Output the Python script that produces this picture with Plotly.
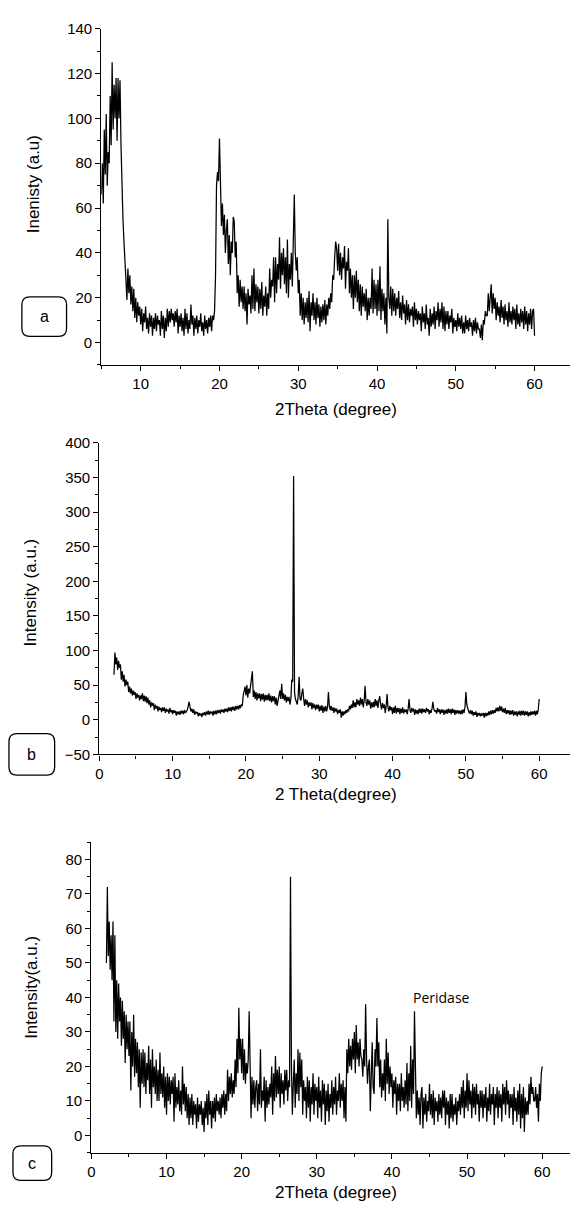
import plotly.graph_objects as go

# ---------------- data ----------------
theta_step = 0.125

# panel a : 2Theta from 5.0 to 60.0 (8 readings per degree)
a_theta_start = 5.0
a_intensity = [
    66, 80, 62, 95, 75, 102, 70, 85,       # 5
    80, 110, 88, 125, 95, 115, 100, 118,   # 6
    90, 118, 100, 117, 88, 62, 55, 45,     # 7
    32, 28, 19, 33, 22, 30, 17, 25,        # 8
    14, 24, 11, 20, 9, 18, 12, 16,         # 9
    8, 15, 5, 13, 9, 16, 6, 11,            # 10
    4, 13, 7, 12, 3, 11, 6, 13,            # 11
    5, 12, 8, 10, 3, 14, 6, 12,            # 12
    2, 11, 5, 15, 7, 14, 9, 15,            # 13
    10, 13, 7, 14, 9, 15, 4, 12,           # 14
    7, 13, 5, 11, 3, 15, 6, 13,            # 15
    4, 10, 6, 17, 8, 12, 3, 11,            # 16
    6, 12, 4, 10, 7, 13, 5, 9,             # 17
    3, 12, 6, 10, 4, 11, 7, 12,            # 18
    5, 12, 10, 14, 30, 70, 76, 72,         # 19
    91, 60, 52, 62, 48, 57, 40, 50,        # 20
    55, 35, 48, 30, 45, 40, 56, 54,        # 21
    38, 45, 22, 30, 16, 28, 18, 25,        # 22
    15, 25, 14, 22, 8, 24, 17, 21,         # 23
    13, 30, 15, 33, 14, 26, 18, 25,        # 24
    13, 24, 15, 27, 12, 21, 16, 25,        # 25
    12, 22, 15, 33, 20, 28, 25, 38,        # 26
    18, 38, 22, 35, 28, 47, 24, 40,        # 27
    30, 42, 26, 38, 22, 46, 20, 35,        # 28
    28, 40, 25, 46, 66, 40, 32, 38,        # 29
    22, 28, 12, 22, 10, 20, 8, 18,         # 30
    11, 20, 9, 23, 5, 18, 12, 22,          # 31
    10, 18, 8, 20, 11, 17, 7, 16,          # 32
    9, 17, 10, 19, 8, 17, 12, 20,          # 33
    15, 22, 18, 30, 28, 38, 45, 42,        # 34
    32, 44, 30, 40, 28, 38, 33, 43,        # 35
    24, 36, 32, 42, 22, 33, 20, 30,        # 36
    15, 30, 20, 32, 18, 28, 14, 26,        # 37
    12, 25, 16, 22, 14, 24, 10, 20,        # 38
    12, 20, 15, 33, 13, 28, 15, 26,        # 39
    12, 28, 14, 34, 10, 24, 14, 22,        # 40
    8, 20, 4, 55, 20, 15, 25, 12,          # 41
    24, 14, 22, 12, 20, 15, 23, 11,        # 42
    18, 10, 21, 13, 17, 8, 19, 10,         # 43
    17, 9, 15, 12, 16, 7, 18, 10,          # 44
    15, 8, 14, 10, 13, 5, 16, 9,           # 45
    13, 6, 17, 8, 11, 3, 15, 7,            # 46
    13, 8, 16, 6, 14, 10, 18, 7,           # 47
    15, 9, 18, 6, 16, 5, 14, 8,            # 48
    14, 6, 12, 9, 15, 4, 11, 7,            # 49
    10, 5, 13, 7, 11, 6, 12, 4,            # 50
    9, 4, 12, 6, 10, 5, 11, 7,             # 51
    9, 3, 10, 5, 11, 4, 9, 6,              # 52
    6, 2, 8, 1, 10, 8, 14, 12,             # 53
    12, 22, 14, 20, 26, 13, 22, 15,        # 54
    20, 10, 18, 12, 16, 9, 19, 11,         # 55
    16, 8, 17, 10, 14, 7, 18, 9,           # 56
    14, 8, 16, 10, 15, 6, 17, 8,           # 57
    13, 7, 15, 9, 14, 6, 16, 8,            # 58
    14, 5, 13, 8, 15, 6, 14, 15,           # 59
    3,                                     # 60
]

# panel b : 2Theta from 2.0 to 60.0
b_theta_start = 2.0
b_intensity = [
    65, 97, 80, 90, 72, 85, 75, 80,        # 2
    58, 70, 55, 65, 48, 58, 50, 55,        # 3
    40, 48, 38, 45, 35, 42, 36, 40,        # 4
    30, 38, 32, 36, 28, 35, 30, 38,        # 5
    27, 35, 26, 34, 24, 32, 22, 28,        # 6
    18, 25, 20, 24, 14, 22, 16, 20,        # 7
    12, 19, 14, 17, 11, 18, 13, 18,        # 8
    10, 16, 12, 15, 9, 17, 11, 14,         # 9
    8, 14, 10, 13, 6, 12, 8, 12,           # 10
    7, 13, 9, 13, 8, 14, 10, 12,           # 11
    14, 20, 26, 18, 12, 16, 10, 15,        # 12
    7, 12, 9, 11, 5, 10, 6, 9,             # 13
    4, 10, 7, 11, 6, 12, 8, 13,            # 14
    7, 12, 9, 12, 6, 13, 8, 13,            # 15
    8, 14, 10, 14, 9, 15, 11, 15,          # 16
    10, 16, 12, 16, 11, 18, 13, 18,        # 17
    12, 19, 14, 19, 13, 20, 15, 20,        # 18
    15, 21, 17, 22, 20, 35, 42, 48,        # 19
    35, 50, 32, 45, 38, 48, 55, 70,        # 20
    33, 42, 30, 40, 28, 38, 31, 38,        # 21
    27, 37, 29, 38, 26, 36, 28, 36,        # 22
    28, 38, 27, 35, 25, 34, 27, 34,        # 23
    22, 32, 20, 28, 35, 42, 30, 52,        # 24
    30, 38, 28, 36, 25, 33, 27, 33,        # 25
    22, 30, 58, 55, 352, 40, 30, 25,       # 26
    22, 35, 62, 30, 28, 38, 45, 30,        # 27
    20, 30, 22, 28, 18, 25, 20, 25,        # 28
    15, 24, 17, 22, 14, 22, 16, 22,        # 29
    12, 20, 13, 21, 10, 19, 12, 20,        # 30
    12, 18, 40, 20, 14, 20, 13, 18,        # 31
    10, 17, 12, 16, 8, 14, 10, 15,         # 32
    3, 12, 6, 12, 8, 14, 10, 15,           # 33
    12, 20, 15, 22, 17, 28, 18, 25,        # 34
    18, 30, 22, 28, 20, 32, 22, 30,        # 35
    18, 28, 49, 25, 20, 30, 22, 28,        # 36
    16, 25, 18, 26, 18, 30, 20, 28,        # 37
    17, 28, 34, 22, 15, 24, 17, 22,        # 38
    10, 20, 37, 18, 12, 20, 14, 18,        # 39
    8, 18, 10, 20, 9, 17, 11, 17,          # 40
    8, 16, 10, 18, 9, 15, 11, 15,          # 41
    8, 16, 30, 14, 10, 17, 12, 16,         # 42
    7, 15, 9, 14, 8, 16, 10, 16,           # 43
    9, 16, 11, 15, 10, 17, 12, 15,         # 44
    8, 14, 10, 16, 26, 15, 12, 14,         # 45
    9, 17, 11, 15, 8, 15, 10, 15,          # 46
    7, 14, 9, 15, 9, 16, 10, 15,           # 47
    8, 16, 10, 15, 7, 14, 9, 14,           # 48
    9, 13, 8, 14, 8, 15, 10, 18,           # 49
    40, 22, 15, 12, 9, 14, 8, 13,          # 50
    6, 11, 7, 12, 4, 10, 6, 10,            # 51
    5, 9, 6, 10, 3, 10, 5, 10,             # 52
    6, 12, 7, 13, 8, 14, 9, 14,            # 53
    10, 17, 12, 18, 12, 20, 13, 19,        # 54
    11, 16, 10, 17, 8, 14, 9, 14,          # 55
    7, 13, 8, 14, 6, 12, 7, 12,            # 56
    5, 12, 7, 13, 6, 13, 7, 13,            # 57
    6, 12, 7, 12, 5, 11, 6, 12,            # 58
    7, 12, 8, 13, 6, 13, 8, 15,            # 59
    30,                                    # 60
]

# panel c : 2Theta from 2.0 to 60.0
c_theta_start = 2.0
c_intensity = [
    50, 72, 52, 62, 48, 58, 45, 62,        # 2
    33, 58, 30, 45, 28, 44, 33, 40,        # 3
    26, 39, 28, 36, 21, 35, 25, 33,        # 4
    23, 33, 13, 30, 20, 35, 17, 28,        # 5
    18, 27, 14, 25, 8, 24, 15, 25,         # 6
    14, 24, 12, 21, 16, 26, 12, 22,        # 7
    8, 25, 14, 20, 12, 22, 10, 19,         # 8
    10, 24, 12, 18, 11, 20, 8, 17,         # 9
    6, 18, 10, 17, 9, 16, 12, 17,          # 10
    4, 18, 8, 14, 9, 16, 7, 13,            # 11
    6, 20, 9, 15, 7, 14, 5, 12,            # 12
    3, 11, 5, 12, 3, 10, 6, 9,             # 13
    2, 11, 4, 9, 6, 10, 3, 8,              # 14
    1, 10, 5, 12, 3, 13, 6, 10,            # 15
    2, 10, 5, 11, 4, 12, 7, 10,            # 16
    6, 11, 5, 12, 8, 13, 6, 12,            # 17
    7, 19, 10, 17, 12, 18, 11, 16,         # 18
    12, 22, 14, 28, 18, 37, 22, 28,        # 19
    18, 28, 16, 25, 15, 21, 18, 22,        # 20
    36, 15, 5, 17, 9, 16, 8, 14,           # 21
    16, 7, 15, 9, 25, 8, 13, 10,           # 22
    17, 4, 16, 8, 14, 9, 15, 11,           # 23
    20, 6, 18, 10, 23, 11, 19, 12,         # 24
    20, 8, 18, 12, 16, 9, 19, 13,          # 25
    19, 10, 16, 14, 75, 20, 6, 15,         # 26
    22, 8, 18, 12, 25, 10, 24, 14,         # 27
    22, 6, 16, 10, 14, 5, 17, 8,           # 28
    16, 4, 14, 9, 18, 6, 15, 10,           # 29
    14, 5, 17, 8, 13, 4, 16, 9,            # 30
    15, 3, 13, 7, 15, 4, 12, 8,            # 31
    16, 6, 14, 9, 17, 6, 13, 10,           # 32
    18, 8, 15, 10, 16, 5, 14, 4,           # 33
    25, 18, 28, 20, 26, 19, 28, 22,        # 34
    30, 18, 32, 22, 27, 20, 28, 23,        # 35
    22, 17, 25, 20, 38, 22, 15, 20,        # 36
    22, 7, 18, 27, 14, 12, 25, 20,         # 37
    34, 20, 27, 14, 22, 11, 18, 13,        # 38
    22, 10, 28, 15, 24, 12, 20, 14,        # 39
    18, 8, 16, 12, 17, 6, 15, 10,          # 40
    15, 7, 18, 10, 14, 8, 16, 9,           # 41
    21, 7, 18, 10, 26, 8, 22, 12,          # 42
    36, 20, 5, 13, 6, 11, 3, 12,           # 43
    14, 2, 11, 6, 12, 4, 10, 7,            # 44
    15, 6, 12, 5, 13, 3, 11, 7,            # 45
    10, 4, 12, 6, 11, 5, 13, 8,            # 46
    13, 3, 11, 6, 10, 2, 12, 5,            # 47
    12, 4, 9, 6, 11, 3, 10, 7,             # 48
    12, 6, 14, 8, 16, 5, 13, 8,            # 49
    18, 7, 16, 9, 13, 5, 15, 8,            # 50
    14, 6, 15, 9, 12, 4, 13, 8,            # 51
    13, 5, 12, 8, 14, 4, 11, 7,            # 52
    15, 6, 12, 9, 14, 3, 12, 8,            # 53
    14, 5, 13, 8, 12, 4, 15, 9,            # 54
    14, 6, 16, 9, 13, 5, 12, 8,            # 55
    12, 3, 14, 7, 11, 4, 13, 6,            # 56
    15, 2, 12, 5, 14, 1, 11, 6,            # 57
    10, 6, 15, 9, 17, 12, 14, 10,          # 58
    10, 14, 8, 12, 4, 15, 10, 18,          # 59
    20,                                    # 60
]

panel_letters = ["a", "b", "c"]
x_titles = ["2Theta (degree)", "2 Theta(degree)", "2Theta (degree)"]
y_titles = ["Inenisty (a.u)", "Intensity (a.u.)", "Intensity(a.u.)"]
peak_label = "Peridase"
peak_label_theta = 43.0
peak_label_value = 36

# ---------------- layout helpers ----------------
W, H = 570, 1210


def px(x):
    return x / W


def py(y):
    return 1 - y / H


def theta_axis(start, values):
    return [start + i * theta_step for i in range(len(values))]


FONT = "Liberation Sans"

fig = go.Figure()
series = [(a_theta_start, a_intensity), (b_theta_start, b_intensity), (c_theta_start, c_intensity)]
for i, (st, vals) in enumerate(series):
    sfx = "" if i == 0 else str(i + 1)
    fig.add_trace(go.Scatter(
        x=theta_axis(st, vals), y=vals, mode="lines",
        line=dict(color="black", width=1.25),
        xaxis="x" + sfx, yaxis="y" + sfx, showlegend=False, hoverinfo="skip",
    ))

# pixel geometry of the three panels: (left, top, bottom)
panels = [(98, 20, 361), (96, 440, 756), (88, 845, 1160)]
x_ranges = [[5, 64.5], [0, 64.2], [0, 63.7]]
y_ranges = [[-10, 140], [-50, 400], [-5, 85]]
y_dticks = [20, 50, 10]

axis_common = dict(
    showline=True, linecolor="black", linewidth=1.3,
    ticks="outside", ticklen=5, tickwidth=1.2, tickcolor="black",
    showgrid=False, zeroline=False,
    tickfont=dict(family=FONT, size=15, color="black"),
)

layout = dict(
    width=W, height=H, margin=dict(l=0, r=0, t=0, b=0),
    paper_bgcolor="white", plot_bgcolor="white", showlegend=False,
    font=dict(family=FONT, color="black"),
)
for i in range(3):
    sfx = "" if i == 0 else str(i + 1)
    left, top, bottom = panels[i]
    layout["xaxis" + sfx] = dict(
        axis_common, domain=[px(left), 1], range=x_ranges[i],
        anchor="y" + sfx, tick0=0, dtick=10,
        minor=dict(ticks="outside", ticklen=3, dtick=5, tick0=0, tickcolor="black", tickwidth=1.2),
    )
    layout["yaxis" + sfx] = dict(
        axis_common, domain=[py(bottom), py(top)], range=y_ranges[i],
        anchor="x" + sfx, tick0=0, dtick=y_dticks[i],
        minor=dict(ticks="outside", ticklen=3, dtick=y_dticks[i] / 2, tick0=0, tickcolor="black", tickwidth=1.2),
    )
fig.update_layout(**layout)

# axis titles
x_title_y = [406, 797, 1200]
y_title_pos = [(30, 178), (27, 592), (27, 992)]
for i in range(3):
    fig.add_annotation(text=x_titles[i], xref="paper", yref="paper",
                       x=px(334), y=py(x_title_y[i]), showarrow=False,
                       xanchor="center", yanchor="middle",
                       font=dict(family=FONT, size=17, color="black"))
    fig.add_annotation(text=y_titles[i], xref="paper", yref="paper",
                       x=px(y_title_pos[i][0]), y=py(y_title_pos[i][1]), showarrow=False,
                       textangle=-90, xanchor="center", yanchor="middle",
                       font=dict(family=FONT, size=17, color="black"))


# rounded label boxes
def rrect(x0, y0, x1, y1, r):
    pts = [("M", [(x0 + r, y0)]), ("L", [(x1 - r, y0)]), ("Q", [(x1, y0), (x1, y0 + r)]),
           ("L", [(x1, y1 - r)]), ("Q", [(x1, y1), (x1 - r, y1)]), ("L", [(x0 + r, y1)]),
           ("Q", [(x0, y1), (x0, y1 - r)]), ("L", [(x0, y0 + r)]), ("Q", [(x0, y0), (x0 + r, y0)])]
    s = ""
    for cmd, ps in pts:
        s += cmd + " " + " ".join(f"{px(a):.5f},{py(b):.5f}" for a, b in ps) + " "
    return s + "Z"


boxes = [(18, 292, 63, 332), (5, 735, 51, 777), (9, 1153, 48, 1188)]
for i, (x0, y0, x1, y1) in enumerate(boxes):
    fig.add_shape(type="path", path=rrect(x0, y0, x1, y1, 8), xref="paper", yref="paper",
                  line=dict(color="black", width=1.3), fillcolor="white")
    fig.add_annotation(text=panel_letters[i], xref="paper", yref="paper",
                       x=px((x0 + x1) / 2), y=py((y0 + y1) / 2), showarrow=False,
                       xanchor="center", yanchor="middle",
                       font=dict(family=FONT, size=16, color="black"))

# peak annotation in panel c
fig.add_annotation(text=peak_label, x=peak_label_theta, y=peak_label_value,
                   xref="x3", yref="y3", showarrow=False, xanchor="left", yanchor="bottom",
                   xshift=-3, yshift=2,
                   font=dict(family="Open Sans", size=14, color="black"))

fig.write_html("out.html")
